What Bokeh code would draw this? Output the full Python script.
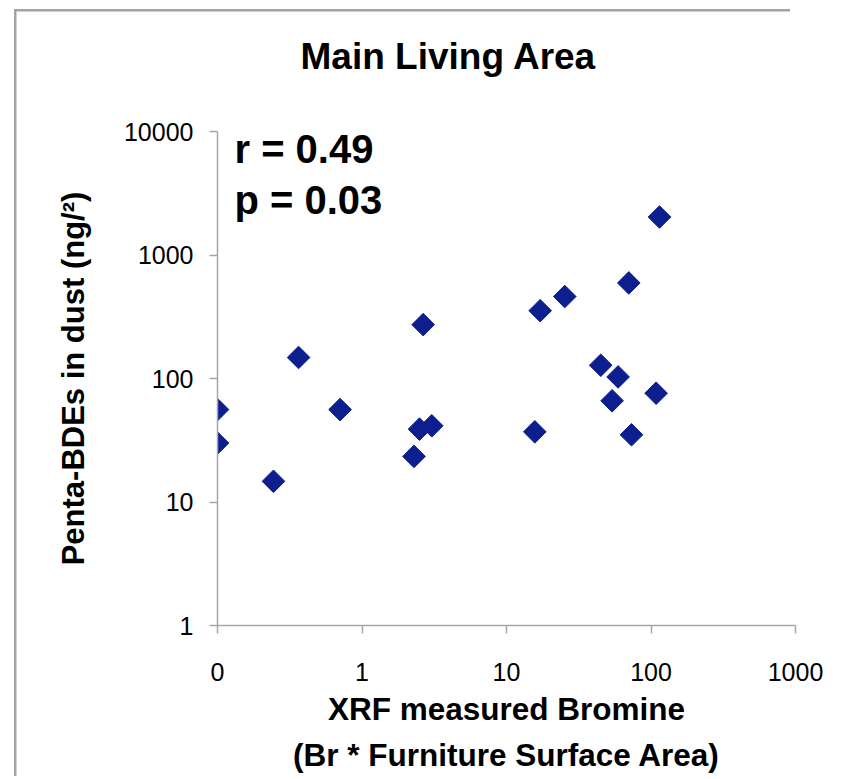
from bokeh.plotting import figure
from bokeh.models import Range1d, FixedTicker, Label
from bokeh.embed import file_html
from bokeh.resources import INLINE

# ---- data ----
bromine = [0.1, 0.1, 0.244, 0.364, 0.705, 2.29, 2.50, 2.65, 3.04, 15.7,
           17.1, 25.3, 44.9, 53.8, 59.2, 70.2, 73.3, 108.5, 114.5]
penta_bde = [56, 30, 14.7, 148, 56, 23.4, 38.9, 273, 41.4, 37.0,
             354, 461, 128, 66, 103, 594, 35.0, 76, 2030]

x_tick_values = [0.1, 1, 10, 100, 1000]
x_tick_labels = ["0", "1", "10", "100", "1000"]
y_tick_values = [1, 10, 100, 1000, 10000]
y_tick_labels = ["1", "10", "100", "1000", "10000"]

title_text = "Main Living Area"
x_label = "XRF measured Bromine\n(Br * Furniture Surface Area)"
y_label = "Penta-BDEs in dust (ng/\u00b2)"
r_text = "r = 0.49"
p_text = "p = 0.03"

FONT = "Liberation Sans"
AXIS_GRAY = "#a6a6a6"
BORDER_GRAY = "#a3a3a3"
MARKER = "#0d1f8e"

p = figure(width=861, height=776, x_axis_type="log", y_axis_type="log",
           x_range=Range1d(0.1, 1000), y_range=Range1d(1, 10000),
           output_backend="svg", toolbar_location=None,
           min_border_left=217, min_border_right=66,
           min_border_top=131, min_border_bottom=146,
           title=title_text + "\n")

p.grid.visible = False
p.outline_line_color = None
p.background_fill_color = "white"
p.border_fill_color = None
# chart-area border (only top and left edges visible in the reference)
p.styles = {
    "background-color": "white",
    "background-image": (
        f"linear-gradient({BORDER_GRAY},{BORDER_GRAY}), "
        f"linear-gradient({BORDER_GRAY},{BORDER_GRAY})"
    ),
    "background-position": "14px 9px, 14px 9px",
    "background-size": "2.5px 2000px, 776px 2.5px",
    "background-repeat": "no-repeat, no-repeat",
}

p.title.text_font = FONT
p.title.text_font_size = "37px"
p.title.text_font_style = "bold"
p.title.text_color = "black"
p.title.align = "left"
p.title.offset = 83
p.title.standoff = 27

for ax, vals, labs in ((p.xaxis, x_tick_values, x_tick_labels),
                       (p.yaxis, y_tick_values, y_tick_labels)):
    ax.ticker = FixedTicker(ticks=vals, minor_ticks=[])
    ax.major_label_overrides = {float(v): l for v, l in zip(vals, labs)}
    ax.axis_line_color = AXIS_GRAY
    ax.axis_line_width = 1.5
    ax.major_tick_line_color = AXIS_GRAY
    ax.major_tick_line_width = 1.5
    ax.major_tick_in = 0
    ax.major_tick_out = 8
    ax.minor_tick_line_color = None
    ax.major_label_text_font = FONT
    ax.major_label_text_font_size = "25px"
    ax.major_label_text_color = "black"
    ax.axis_label_text_font = FONT
    ax.axis_label_text_font_style = "bold"
    ax.axis_label_text_color = "black"

p.xaxis.axis_label = x_label
p.xaxis.axis_label_text_font_size = "31.5px"
p.xaxis.axis_label_text_line_height = 1.3
p.xaxis.major_label_standoff = 29
p.xaxis.axis_label_standoff = 7

p.yaxis.axis_label = y_label
p.yaxis.axis_label_text_font_size = "31px"
p.yaxis.major_label_standoff = 16
p.yaxis.axis_label_standoff = 30

p.scatter(bromine, penta_bde, marker="square", size=16, angle=0.785398,
          fill_color=MARKER, line_color=MARKER)

for txt, yv in ((r_text, 7200), (p_text, 2780)):
    p.add_layout(Label(x=0.131, y=yv, text=txt, text_font=FONT,
                       text_font_size="40px", text_font_style="bold",
                       text_color="black", text_baseline="alphabetic"))

open("out.html", "w").write(file_html(p, INLINE))
